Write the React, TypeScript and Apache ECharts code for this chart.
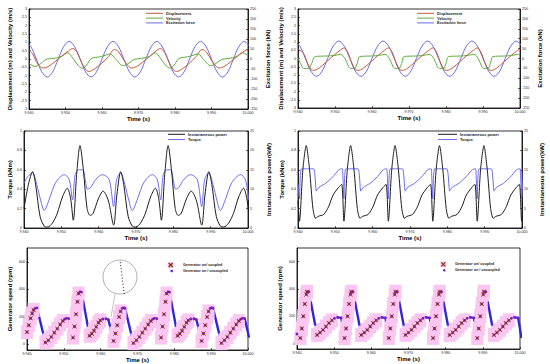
import { useEffect, useRef } from 'react';
import * as echarts from 'echarts';

const FONT = '"Liberation Sans", Arial, Helvetica, sans-serif';

// ---------- data ----------
const TIME_MIN = 9.94;
const TIME_MAX = 10.0;
const GEN_TICKS = [0, 200, 400, 600];

// Excitation force (kN) – same wave in both top panels
const FORCE: number[][] = [
  [9.939, 88], [9.9405, 62], [9.942, 0], [9.9435, -64], [9.945, -90], [9.9465, -64], [9.948, 0], [9.9495, 62],
  [9.951, 88], [9.9525, 62], [9.954, 0], [9.9555, -64], [9.957, -90], [9.9585, -64], [9.96, 0], [9.9615, 62],
  [9.963, 88], [9.9645, 62], [9.966, 0], [9.9675, -64], [9.969, -90], [9.9705, -64], [9.972, 0], [9.9735, 62],
  [9.975, 88], [9.9765, 62], [9.978, 0], [9.9795, -64], [9.981, -90], [9.9825, -64], [9.984, 0], [9.9855, 62],
  [9.987, 88], [9.9885, 62], [9.99, 0], [9.9915, -64], [9.993, -90], [9.9945, -64], [9.996, 0], [9.9975, 62],
  [9.999, 88], [10.0005, 62],
];

const DISP_1: number[][] = [
  [9.94, 0.52], [9.941, 0.3], [9.9424, -0.3], [9.9438, -0.54], [9.9452, -0.46], [9.947, -0.18], [9.949, 0.18],
  [9.9508, 0.48], [9.952, 0.63], [9.9532, 0.38], [9.9545, -0.25], [9.9556, -0.65], [9.9564, -0.75], [9.9578, -0.62],
  [9.9598, -0.28], [9.9618, 0.15], [9.9634, 0.57], [9.9646, 0.42], [9.966, -0.08], [9.9672, -0.42], [9.968, -0.54],
  [9.9694, -0.46], [9.9712, -0.18], [9.9732, 0.18], [9.9748, 0.48], [9.976, 0.63], [9.9772, 0.38], [9.9785, -0.25],
  [9.9796, -0.65], [9.9804, -0.75], [9.9818, -0.62], [9.9838, -0.28], [9.9858, 0.15], [9.9874, 0.57], [9.9886, 0.42],
  [9.99, -0.08], [9.9912, -0.42], [9.992, -0.54], [9.9934, -0.46], [9.9952, -0.18], [9.9972, 0.18], [9.999, 0.48],
  [10.0, 0.56],
];

const VEL_1: number[][] = [
  [9.94, -0.26], [9.9416, -0.45], [9.9432, -0.28], [9.9446, -0.03], [9.9468, 0.04], [9.9488, 0.14], [9.9506, 0.37],
  [9.952, 0.05], [9.9536, -0.42], [9.9547, -0.55], [9.9558, -0.36], [9.9571, 0.03], [9.9594, 0.13], [9.9612, 0.24],
  [9.9623, 0.3], [9.9638, -0.02], [9.9658, -0.4], [9.9674, -0.24], [9.9688, -0.03], [9.9708, 0.04], [9.9728, 0.14],
  [9.9746, 0.37], [9.976, 0.05], [9.9776, -0.42], [9.9787, -0.55], [9.9798, -0.36], [9.9811, 0.03], [9.9834, 0.13],
  [9.9852, 0.24], [9.9863, 0.3], [9.9878, -0.02], [9.9898, -0.4], [9.9914, -0.24], [9.9928, -0.03], [9.9948, 0.04],
  [9.9968, 0.14], [9.9986, 0.37], [10.0, 0.2],
];

const DISP_2: number[][] = [
  [9.94, 0.55], [9.9414, 0.35], [9.9426, -0.3], [9.9436, -0.68], [9.9442, -0.72],
  [9.9457, -0.58], [9.9477, -0.2], [9.9497, 0.2], [9.9514, 0.5], [9.9524, 0.64], [9.9534, 0.4], [9.9546, -0.3], [9.9556, -0.68], [9.9562, -0.72],
  [9.9577, -0.58], [9.9597, -0.2], [9.9617, 0.2], [9.9634, 0.5], [9.9644, 0.64], [9.9654, 0.4], [9.9666, -0.3], [9.9676, -0.68], [9.9682, -0.72],
  [9.9697, -0.58], [9.9717, -0.2], [9.9737, 0.2], [9.9754, 0.5], [9.9764, 0.64], [9.9774, 0.4], [9.9786, -0.3], [9.9796, -0.68], [9.9802, -0.72],
  [9.9817, -0.58], [9.9837, -0.2], [9.9857, 0.2], [9.9874, 0.5], [9.9884, 0.64], [9.9894, 0.4], [9.9906, -0.3], [9.9916, -0.68], [9.9922, -0.72],
  [9.9937, -0.58], [9.9957, -0.2], [9.9977, 0.2], [9.9994, 0.5], [10.0, 0.58],
];

const VEL_2: number[][] = [
  [9.94, 0.05], [9.941, -0.45], [9.9416, -0.6], [9.9428, -0.6], [9.9437, -0.3], [9.9447, 0.12],
  [9.9477, 0.15], [9.9497, 0.18], [9.9515, 0.25], [9.9527, 0.0], [9.9537, -0.5], [9.9543, -0.6], [9.9553, -0.6], [9.956, -0.3], [9.9567, 0.12],
  [9.9597, 0.15], [9.9617, 0.18], [9.9635, 0.25], [9.9647, 0.0], [9.9657, -0.5], [9.9663, -0.6], [9.9673, -0.6], [9.968, -0.3], [9.9687, 0.12],
  [9.9717, 0.15], [9.9737, 0.18], [9.9755, 0.25], [9.9767, 0.0], [9.9777, -0.5], [9.9783, -0.6], [9.9793, -0.6], [9.98, -0.3], [9.9807, 0.12],
  [9.9837, 0.15], [9.9857, 0.18], [9.9875, 0.25], [9.9887, 0.0], [9.9897, -0.5], [9.9903, -0.6], [9.9913, -0.6], [9.992, -0.3], [9.9927, 0.12],
  [9.9957, 0.15], [9.9977, 0.18], [9.9995, 0.25], [10.0, 0.2],
];

const TORQUE_3: number[][] = [
  [9.94, 0.46], [9.941, 0.53], [9.9423, 0.57], [9.9434, 0.45], [9.9445, 0.28], [9.9454, 0.18], [9.9468, 0.3], [9.9485, 0.47],
  [9.9508, 0.55], [9.9521, 0.5], [9.953, 0.29], [9.9537, 0.55], [9.9546, 0.6], [9.9557, 0.6], [9.9564, 0.5], [9.957, 0.4],
  [9.9579, 0.42], [9.9592, 0.5], [9.961, 0.55], [9.9628, 0.5], [9.964, 0.22], [9.9648, 0.5],
  [9.9659, 0.57], [9.967, 0.45], [9.9681, 0.28], [9.969, 0.18], [9.9704, 0.3], [9.9721, 0.47], [9.9744, 0.55], [9.9757, 0.5],
  [9.9766, 0.29], [9.9773, 0.55], [9.9782, 0.6], [9.9793, 0.6], [9.98, 0.5], [9.9806, 0.4], [9.9815, 0.42], [9.9828, 0.5],
  [9.9846, 0.55], [9.9864, 0.5], [9.9876, 0.22], [9.9884, 0.5],
  [9.9895, 0.57], [9.9906, 0.45], [9.9917, 0.28], [9.9926, 0.18], [9.994, 0.3], [9.9957, 0.47], [9.998, 0.55], [9.9993, 0.5],
  [10.0002, 0.29],
];

const POWER_3: number[][] = [
  [9.94, 5.0], [9.9412, 11.3], [9.9423, 14.5], [9.9431, 11.3], [9.9443, 3.0], [9.9454, 0.5], [9.9463, 0.25], [9.9476, 1.25],
  [9.9489, 3.75], [9.9503, 8.0], [9.9516, 10.25], [9.9525, 7.5], [9.9532, 2.0], [9.9541, 13.75], [9.955, 21.25], [9.9559, 15.0],
  [9.9569, 5.0], [9.9577, 3.25], [9.9585, 3.75], [9.9599, 7.5], [9.9612, 9.5], [9.9626, 7.0], [9.964, 0.75], [9.9649, 8.75],
  [9.9659, 14.5], [9.9667, 11.3], [9.9679, 3.0], [9.969, 0.5], [9.9699, 0.25], [9.9712, 1.25], [9.9725, 3.75], [9.9739, 8.0],
  [9.9752, 10.25], [9.9761, 7.5], [9.9768, 2.0], [9.9777, 13.75], [9.9786, 21.25], [9.9795, 15.0], [9.9805, 5.0], [9.9813, 3.25],
  [9.9821, 3.75], [9.9835, 7.5], [9.9848, 9.5], [9.9862, 7.0], [9.9876, 0.75], [9.9885, 8.75],
  [9.9895, 14.5], [9.9903, 11.3], [9.9915, 3.0], [9.9926, 0.5], [9.9935, 0.25], [9.9948, 1.25], [9.9961, 3.75], [9.9975, 8.0],
  [9.9988, 10.25], [9.9997, 7.5], [10.0004, 2.0],
];

const TORQUE_4: number[][] = [
  [9.94, 0.45], [9.9404, 0.3], [9.9409, 0.61], [9.9442, 0.61], [9.9449, 0.38], [9.9456, 0.42], [9.9474, 0.46], [9.9494, 0.53], [9.9509, 0.6], [9.9516, 0.61], [9.9519, 0.61],
  [9.9523, 0.3], [9.9528, 0.61], [9.9561, 0.61], [9.9568, 0.38], [9.9575, 0.42], [9.9593, 0.46], [9.9613, 0.53], [9.9628, 0.6], [9.9635, 0.61], [9.9638, 0.61],
  [9.9642, 0.3], [9.9647, 0.61], [9.968, 0.61], [9.9687, 0.38], [9.9694, 0.42], [9.9712, 0.46], [9.9732, 0.53], [9.9747, 0.6], [9.9754, 0.61], [9.9757, 0.61],
  [9.9761, 0.3], [9.9766, 0.61], [9.9799, 0.61], [9.9806, 0.38], [9.9813, 0.42], [9.9831, 0.46], [9.9851, 0.53], [9.9866, 0.6], [9.9873, 0.61], [9.9876, 0.61],
  [9.988, 0.3], [9.9885, 0.61], [9.9918, 0.61], [9.9925, 0.38], [9.9932, 0.42], [9.995, 0.46], [9.997, 0.53], [9.9985, 0.6], [9.9992, 0.61], [9.9995, 0.61],
  [9.9999, 0.3], [10.0004, 0.61],
];

const POWER_4: number[][] = [
  [9.94, 7.0], [9.9404, 1.75], [9.9413, 15.0], [9.9422, 21.25], [9.9431, 15.0], [9.944, 5.0], [9.9447, 2.5], [9.9454, 3.0], [9.9469, 3.5], [9.9482, 5.5], [9.9494, 8.5], [9.9509, 10.5], [9.9517, 11.25],
  [9.9523, 1.75], [9.9532, 15.0], [9.9541, 21.25], [9.955, 15.0], [9.9559, 5.0], [9.9566, 2.5], [9.9573, 3.0], [9.9588, 3.5], [9.9601, 5.5], [9.9613, 8.5], [9.9628, 10.5], [9.9636, 11.25],
  [9.9642, 1.75], [9.9651, 15.0], [9.966, 21.25], [9.9669, 15.0], [9.9678, 5.0], [9.9685, 2.5], [9.9692, 3.0], [9.9707, 3.5], [9.972, 5.5], [9.9732, 8.5], [9.9747, 10.5], [9.9755, 11.25],
  [9.9761, 1.75], [9.977, 15.0], [9.9779, 21.25], [9.9788, 15.0], [9.9797, 5.0], [9.9804, 2.5], [9.9811, 3.0], [9.9826, 3.5], [9.9839, 5.5], [9.9851, 8.5], [9.9866, 10.5], [9.9874, 11.25],
  [9.988, 1.75], [9.9889, 15.0], [9.9898, 21.25], [9.9907, 15.0], [9.9916, 5.0], [9.9923, 2.5], [9.993, 3.0], [9.9945, 3.5], [9.9958, 5.5], [9.997, 8.5], [9.9985, 10.5], [9.9993, 11.25],
  [9.9999, 1.75], [10.0008, 15.0],
];

// generator speed: [time, rpm, coupled (1) / free (0)]
const SPEED_5: number[][] = [
  [9.94, 90, 1], [9.9405, 140, 1], [9.941, 190, 1], [9.9414, 225, 1], [9.9418, 250, 1], [9.9422, 262, 0], [9.9427, 265, 0],
  [9.945, 15, 1], [9.9458, 30, 1], [9.9466, 55, 1], [9.9474, 85, 1], [9.9482, 115, 1], [9.949, 145, 1], [9.9497, 170, 1], [9.9502, 183, 0], [9.9507, 190, 0], [9.9513, 188, 0],
  [9.9525, 50, 1], [9.9529, 130, 1], [9.9533, 220, 1], [9.9537, 310, 1], [9.954, 370, 1], [9.9544, 382, 0], [9.9548, 380, 0],
  [9.957, 63, 1], [9.9576, 78, 1], [9.9582, 100, 1], [9.9588, 128, 1], [9.9594, 158, 1], [9.9599, 175, 1], [9.9606, 185, 0], [9.9614, 187, 0], [9.9621, 180, 0],
  [9.9635, 26, 1], [9.964, 80, 1], [9.9645, 140, 1], [9.965, 200, 1], [9.9654, 240, 1], [9.9658, 262, 0], [9.9662, 266, 0], [9.9666, 263, 0],
  [9.9689, 10, 1], [9.9697, 30, 1], [9.9705, 55, 1], [9.9713, 85, 1], [9.9721, 115, 1], [9.9729, 145, 1], [9.9736, 170, 1], [9.9741, 183, 0], [9.9746, 190, 0], [9.9752, 188, 0],
  [9.9764, 50, 1], [9.9768, 130, 1], [9.9772, 220, 1], [9.9776, 310, 1], [9.9779, 370, 1], [9.9783, 382, 0], [9.9787, 380, 0],
  [9.9809, 63, 1], [9.9815, 78, 1], [9.9821, 100, 1], [9.9827, 128, 1], [9.9833, 158, 1], [9.9838, 175, 1], [9.9845, 185, 0], [9.9853, 187, 0], [9.986, 180, 0],
  [9.9874, 26, 1], [9.9879, 80, 1], [9.9884, 140, 1], [9.9889, 200, 1], [9.9893, 240, 1], [9.9897, 262, 0], [9.9901, 266, 0], [9.9905, 263, 0],
  [9.9928, 10, 1], [9.9936, 30, 1], [9.9944, 55, 1], [9.9952, 85, 1], [9.996, 115, 1], [9.9968, 145, 1], [9.9975, 170, 1], [9.998, 183, 0], [9.9985, 190, 0], [9.9991, 188, 0],
  [10.0003, 50, 1],
];

const SPEED_6: number[][] = [
  [9.94, 70, 0],
  [9.9409, 40, 1], [9.9413, 110, 1], [9.9417, 200, 1], [9.9421, 290, 1], [9.9425, 360, 1], [9.9427, 380, 1], [9.9432, 380, 0],
  [9.9454, 63, 1], [9.9462, 80, 1], [9.947, 100, 1], [9.9478, 125, 1], [9.9486, 150, 1], [9.9494, 170, 1], [9.9501, 185, 0], [9.9509, 192, 0], [9.9519, 188, 0],
  [9.9528, 40, 1], [9.9532, 110, 1], [9.9536, 200, 1], [9.954, 290, 1], [9.9544, 360, 1], [9.9546, 380, 1], [9.9551, 380, 0],
  [9.9573, 63, 1], [9.9581, 80, 1], [9.9589, 100, 1], [9.9597, 125, 1], [9.9605, 150, 1], [9.9613, 170, 1], [9.962, 185, 0], [9.9628, 192, 0], [9.9638, 188, 0],
  [9.9647, 40, 1], [9.9651, 110, 1], [9.9655, 200, 1], [9.9659, 290, 1], [9.9663, 360, 1], [9.9665, 380, 1], [9.967, 380, 0],
  [9.9692, 63, 1], [9.97, 80, 1], [9.9708, 100, 1], [9.9716, 125, 1], [9.9724, 150, 1], [9.9732, 170, 1], [9.9739, 185, 0], [9.9747, 192, 0], [9.9757, 188, 0],
  [9.9766, 40, 1], [9.977, 110, 1], [9.9774, 200, 1], [9.9778, 290, 1], [9.9782, 360, 1], [9.9784, 380, 1], [9.9789, 380, 0],
  [9.9811, 63, 1], [9.9819, 80, 1], [9.9827, 100, 1], [9.9835, 125, 1], [9.9843, 150, 1], [9.9851, 170, 1], [9.9858, 185, 0], [9.9866, 192, 0], [9.9876, 188, 0],
  [9.9885, 40, 1], [9.9889, 110, 1], [9.9893, 200, 1], [9.9897, 290, 1], [9.9901, 360, 1], [9.9903, 380, 1], [9.9908, 380, 0],
  [9.993, 63, 1], [9.9938, 80, 1], [9.9946, 100, 1], [9.9954, 125, 1], [9.9962, 150, 1], [9.997, 170, 1], [9.9977, 185, 0], [9.9985, 192, 0], [9.9995, 188, 0],
  [10.0004, 40, 1],
];

// ---------- styles ----------
const C_DISP = '#c65a3a';
const C_VEL = '#5cae3c';
const C_FORCE = '#6a6ae6';
const C_TORQUE = '#6d6df0';
const C_POWER = '#1c1c1c';
const C_SPEED = '#3326d8';
const C_DOT = '#7a1fc0';
const C_RED = '#cc2200';
const C_XMARK = '#8a3008';
const C_PINK = '#fbc6f1';
const X_PATH = 'path://M1,0L5,4L9,0L10,1L6,5L10,9L9,10L5,6L1,10L0,9L4,5L0,1Z';

const GRIDS = [
  { left: 29, top: 9, width: 219, height: 100 },
  { left: 298, top: 9, width: 222, height: 99 },
  { left: 24, top: 131, width: 224, height: 97 },
  { left: 298, top: 131, width: 224, height: 97 },
  { left: 27, top: 248, width: 221, height: 102 },
  { left: 297, top: 248, width: 223, height: 101 },
];

function xAxisFor(gridIndex: number, nameGap: number) {
  return {
    gridIndex,
    type: 'value',
    min: TIME_MIN,
    max: TIME_MAX,
    interval: 0.01,
    name: 'Time (s)',
    nameLocation: 'middle',
    nameGap,
    nameTextStyle: { fontSize: 6, fontWeight: 'bold', color: '#000', fontFamily: FONT },
    axisLine: { show: true, onZero: false, lineStyle: { color: '#000', width: 0.8 } },
    axisTick: { show: true, inside: true, length: 2, lineStyle: { color: '#000', width: 0.6 } },
    axisLabel: {
      fontSize: 3.6, margin: 2, color: '#222', fontFamily: FONT,
      showMinLabel: true, showMaxLabel: true, hideOverlap: false,
      formatter: (v: number) => v.toFixed(3),
    },
    splitLine: { show: false },
  };
}

function yAxisFor(gridIndex: number, position: string, min: number, max: number, interval: number | undefined, name: string, nameGap: number, extra: any = {}) {
  return {
    gridIndex,
    type: 'value',
    position,
    min,
    max,
    interval,
    name,
    nameLocation: 'middle',
    nameGap,
    nameTextStyle: { fontSize: 6, fontWeight: 'bold', color: '#000', fontFamily: FONT },
    axisLine: { show: true, onZero: false, lineStyle: { color: '#000', width: 0.8 } },
    axisTick: { show: true, inside: true, length: 2, lineStyle: { color: '#000', width: 0.6 }, ...(extra.axisTick || {}) },
    axisLabel: { fontSize: 3.6, margin: 2, color: '#222', fontFamily: FONT, showMinLabel: true, showMaxLabel: true, ...(extra.axisLabel || {}) },
    splitLine: { show: false },
  };
}

function line(name: string, data: number[][], xi: number, yi: number, color: string, width = 1, smooth: number | boolean = 0.35) {
  return {
    type: 'line', name, data, xAxisIndex: xi, yAxisIndex: yi,
    symbol: 'none', showSymbol: false, smooth, clip: true, silent: true,
    lineStyle: { color, width }, itemStyle: { color },
  };
}

function speedSeries(data: number[][], xi: number, yi: number) {
  const all = data.map((d) => [d[0], d[1]]);
  const coupled = data.map((d) => (d[2] ? [d[0], d[1]] : [d[0], '-']));
  return [
    {
      type: 'line', name: 'halo', data: coupled, xAxisIndex: xi, yAxisIndex: yi, clip: true, silent: true,
      symbol: 'rect', symbolSize: [12, 14], showSymbol: true,
      lineStyle: { color: C_PINK, width: 12 }, itemStyle: { color: C_PINK },
    },
    {
      type: 'line', name: 'Generator on / uncoupled', data: all, xAxisIndex: xi, yAxisIndex: yi, clip: true, silent: true,
      symbol: 'circle', symbolSize: 2.8, showSymbol: true,
      lineStyle: { color: C_SPEED, width: 2.4 }, itemStyle: { color: C_DOT },
    },
    {
      type: 'line', name: 'Generator on/ coupled', data: coupled, xAxisIndex: xi, yAxisIndex: yi, clip: true, silent: true,
      symbol: X_PATH, symbolSize: 4.5, showSymbol: true,
      lineStyle: { color: C_RED, width: 5.5 }, itemStyle: { color: C_XMARK },
    },
  ];
}

function lineLegend(x: number, y: number, len: number, gap: number, items: { label: string; color: string }[]) {
  const els: any[] = [];
  items.forEach((it, i) => {
    const yy = y + i * gap;
    els.push({ type: 'line', silent: true, shape: { x1: x, y1: yy, x2: x + len, y2: yy }, style: { stroke: it.color, lineWidth: 1 } });
    els.push({
      type: 'text', silent: true, x: x + len + 3, y: yy,
      style: { text: it.label, fontSize: 3.9, fontWeight: 'bold', fill: '#222', fontFamily: FONT, verticalAlign: 'middle', align: 'left' },
    });
  });
  return els;
}

function speedLegend(x: number, y: number, tx: number, gap: number) {
  return [
    { type: 'rect', silent: true, shape: { x: x - 3, y: y - 3, width: 6, height: 6 }, style: { fill: C_PINK } },
    { type: 'line', silent: true, shape: { x1: x - 2, y1: y - 2, x2: x + 2, y2: y + 2 }, style: { stroke: C_XMARK, lineWidth: 1.2 } },
    { type: 'line', silent: true, shape: { x1: x + 2, y1: y - 2, x2: x - 2, y2: y + 2 }, style: { stroke: C_XMARK, lineWidth: 1.2 } },
    { type: 'text', silent: true, x: tx, y, style: { text: 'Generator on/ coupled', fontSize: 3.7, fontWeight: 'bold', fill: '#222', fontFamily: FONT, verticalAlign: 'middle' } },
    { type: 'circle', silent: true, shape: { cx: x + 1, cy: y + gap, r: 1.3 }, style: { fill: C_DOT } },
    { type: 'text', silent: true, x: tx, y: y + gap, style: { text: 'Generator on / uncoupled', fontSize: 3.7, fontWeight: 'bold', fill: '#222', fontFamily: FONT, verticalAlign: 'middle' } },
  ];
}

function inset() {
  const els: any[] = [
    { type: 'line', silent: true, shape: { x1: 115, y1: 294, x2: 111, y2: 317 }, style: { stroke: '#9a9a9a', lineWidth: 0.6 } },
    { type: 'circle', silent: true, shape: { cx: 120, cy: 277, r: 17 }, style: { fill: 'none', stroke: '#9a9a9a', lineWidth: 0.8 } },
  ];
  for (let i = 0; i < 11; i++) {
    els.push({ type: 'circle', silent: true, shape: { cx: 120.3 + i * 0.38, cy: 262.5 + i * 3.1, r: 0.55 }, style: { fill: '#5a1a5a' } });
  }
  return els;
}

const option: any = {
  animation: false,
  backgroundColor: '#fff',
  textStyle: { fontFamily: FONT },
  grid: GRIDS.map((g) => ({ ...g, show: true, borderColor: '#000', borderWidth: 0.8, backgroundColor: 'transparent' })),
  xAxis: [xAxisFor(0, 6), xAxisFor(1, 6), xAxisFor(2, 6), xAxisFor(3, 6), xAxisFor(4, 6), xAxisFor(5, 6)],
  yAxis: [
    yAxisFor(0, 'left', -3, 3, 0.5, 'Displacement (m) and Velocity (m/s)', 16),
    yAxisFor(0, 'right', -250, 250, 50, 'Excitation force (kN)', 17),
    yAxisFor(1, 'left', -3, 3, 0.5, 'Displacement (m) and Velocity (m/s)', 14),
    yAxisFor(1, 'right', -250, 250, 50, 'Excitation force (kN)', 17),
    yAxisFor(2, 'left', 0, 1, 0.2, 'Torque (kNm)', 11),
    yAxisFor(2, 'right', 0, 25, 5, 'Instantaneous power(kW)', 18),
    yAxisFor(3, 'left', 0, 1, 0.2, 'Torque (kNm)', 13),
    yAxisFor(3, 'right', 0, 25, 5, 'Instantaneous power(kW)', 17),
    yAxisFor(4, 'left', -40, 700, undefined, 'Generator speed (rpm)', 14, { axisLabel: { customValues: GEN_TICKS }, axisTick: { customValues: GEN_TICKS } }),
    yAxisFor(5, 'left', -40, 700, undefined, 'Generator speed (rpm)', 14, { axisLabel: { customValues: GEN_TICKS }, axisTick: { customValues: GEN_TICKS } }),
  ],
  series: [
    line('Excitation force', FORCE, 0, 1, C_FORCE),
    line('Velocity', VEL_1, 0, 0, C_VEL),
    line('Displacement', DISP_1, 0, 0, C_DISP),
    line('Excitation force', FORCE, 1, 3, C_FORCE),
    line('Velocity', VEL_2, 1, 2, C_VEL),
    line('Displacement', DISP_2, 1, 2, C_DISP),
    line('Torque', TORQUE_3, 2, 4, C_TORQUE, 1, 0.3),
    line('Instantaneous power', POWER_3, 2, 5, C_POWER, 1, 0.3),
    line('Torque', TORQUE_4, 3, 6, C_TORQUE, 1, 0.15),
    line('Instantaneous power', POWER_4, 3, 7, C_POWER, 1, 0.25),
    ...speedSeries(SPEED_5, 4, 8),
    ...speedSeries(SPEED_6, 5, 9),
  ],
  graphic: [
    ...lineLegend(146, 13.3, 17, 4.8, [
      { label: 'Displacement', color: C_DISP },
      { label: 'Velocity', color: C_VEL },
      { label: 'Excitation force', color: C_FORCE },
    ]),
    ...lineLegend(417, 13.3, 17, 4.8, [
      { label: 'Displacement', color: C_DISP },
      { label: 'Velocity', color: C_VEL },
      { label: 'Excitation force', color: C_FORCE },
    ]),
    ...lineLegend(168, 134.3, 17, 5.2, [
      { label: 'Instantaneous power', color: C_POWER },
      { label: 'Torque', color: C_TORQUE },
    ]),
    ...lineLegend(438, 134.3, 19, 5.2, [
      { label: 'Instantaneous power', color: C_POWER },
      { label: 'Torque', color: C_TORQUE },
    ]),
    ...speedLegend(170.7, 265, 183, 6),
    ...speedLegend(443.3, 264.3, 455, 6),
    ...inset(),
  ],
};

export default function App() {
  const ref = useRef<HTMLDivElement>(null);
  useEffect(() => {
    if (!ref.current) return;
    const chart = echarts.init(ref.current, null, { renderer: 'svg' });
    chart.setOption(option);
    return () => chart.dispose();
  }, []);
  return <div ref={ref} style={{ position: 'absolute', left: 0, top: 0, width: 550, height: 364 }} />;
}
